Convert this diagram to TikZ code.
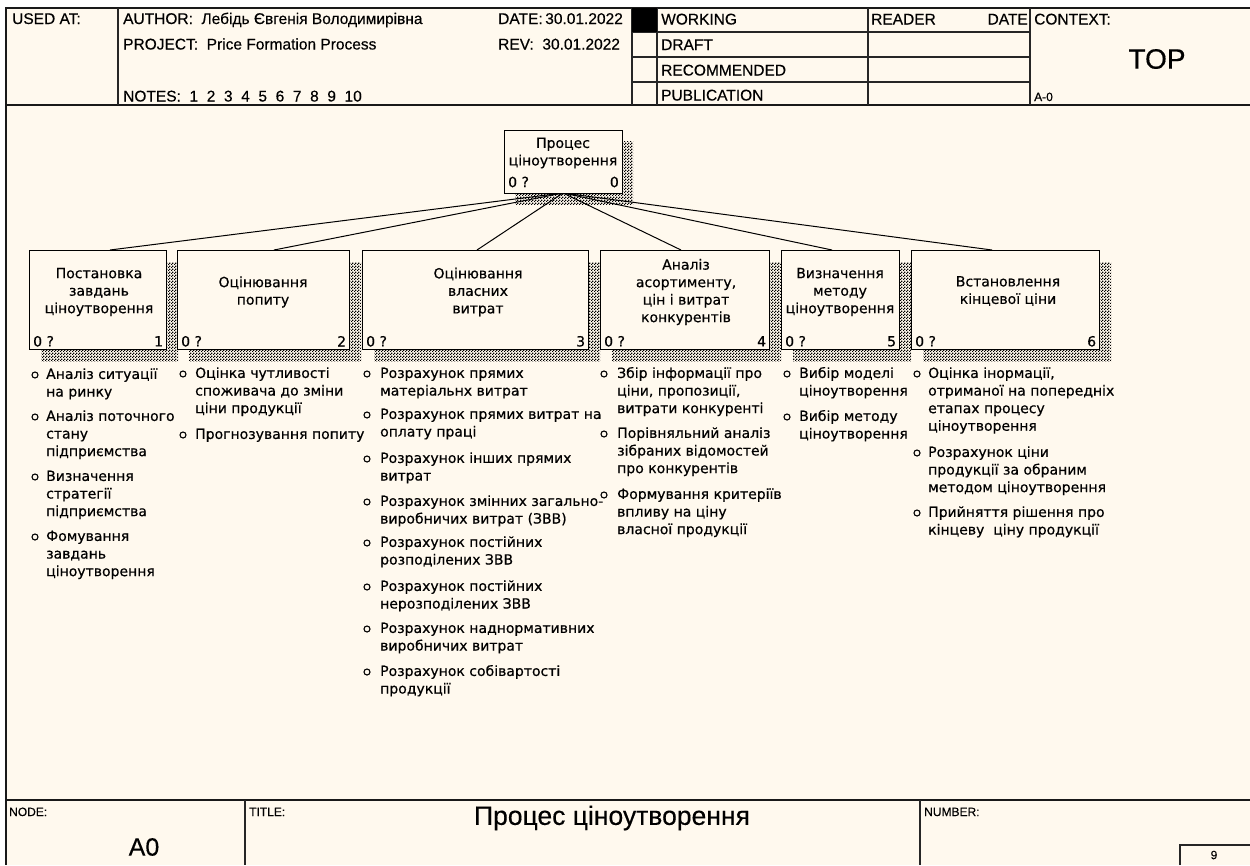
\documentclass[tikz,border=0pt]{standalone}
\usepackage{fontspec}
\setmainfont{Liberation Sans}
\newfontfamily\hdfont[FakeBold=0.35]{Liberation Sans}
\newfontfamily\dvfont[FakeBold=0.5]{DejaVu Sans}
\usetikzlibrary{patterns,patterns.meta}
\definecolor{paper}{HTML}{FFF9EE}

% fine checker used for the drop shadows
\tikzdeclarepattern{
  name=dither,
  type=uncolored,
  bounding box={(0pt,0pt) and (3pt,3pt)},
  tile size={(3pt,3pt)},
  code={
    \pgfpathrectangle{\pgfpointorigin}{\pgfpoint{1.5pt}{1.5pt}}
    \pgfpathrectangle{\pgfpoint{1.5pt}{1.5pt}}{\pgfpoint{1.5pt}{1.5pt}}
    \pgfusepath{fill}
  }
}

% list entry: name, bullet x, text x, y of first line, text
\newcommand\li[5]{%
  \node[bul] (#1b) at (#2,#4) {};
  \node[itm] (#1) at (#3,#4-8.6) {\strut#5};}

\begin{document}
\begin{tikzpicture}[x=1pt,y=-1pt,
  frame/.style={line width=1.8pt, draw=black!90},
  rule/.style={line width=1.4pt, draw=black!85},
  hdr/.style={font=\hdfont\fontsize{15.5}{17}\selectfont, anchor=base west, inner sep=0},
  small/.style={font=\hdfont\fontsize{12}{14}\selectfont, anchor=base west, inner sep=0},
  actbox/.style={draw, line width=1.3pt, fill=paper, anchor=north west, inner sep=0, minimum height=99pt},
  shade/.style={pattern=dither, pattern color=black},
  conn/.style={line width=1pt, draw=black},
  boxtxt/.style={font=\dvfont\fontsize{14}{17.5}\selectfont, align=center, inner sep=0},
  lbl/.style={font=\dvfont\fontsize{14}{16}\selectfont, inner sep=0},
  itm/.style={font=\dvfont\fontsize{14}{17.6}\selectfont, align=left, anchor=north west, inner sep=0},
  bul/.style={circle, draw, line width=1.1pt, inner sep=0, minimum size=6pt, fill=paper},
]
\path[use as bounding box, fill=white] (0,0) rectangle (1250,865);
\fill[paper] (6,8) rectangle (1250,865);

% ---------- header ----------
\draw[frame] (1250,8) -- (6,8) -- (6,865);
\draw[frame] (6,105) -- (1250,105);
\draw[rule] (118,8) -- (118,105);
\draw[rule] (632,8) -- (632,105);
\draw[rule] (657,8) -- (657,105);
\draw[rule] (868,8) -- (868,105);
\draw[rule] (1030,8) -- (1030,105);
\foreach \yy in {32,57,82} \draw[rule] (632,\yy) -- (1030,\yy);
\fill[black] (632,8) rectangle (657,32);

\node[hdr] (usedat) at (12,24) {USED AT:};
\node[hdr] (author) at (123,24) {AUTHOR:\ \ Лебідь Євгенія Володимирівна};
\node[hdr] (project) at (123,49.5) {PROJECT:\ \ Price Formation Process};
\node[hdr] (notes) at (123,101.5) {NOTES:\ \ 1\ \ 2\ \ 3\ \ 4\ \ 5\ \ 6\ \ 7\ \ 8\ \ 9\ \ 10};
\node[hdr] (date) at (498,24) {DATE:\,30.01.2022};
\node[hdr] (rev) at (498,49.5) {REV:\ \ 30.01.2022};
\node[hdr] (working) at (661,24.5) {WORKING};
\node[hdr] (draft) at (661,50) {DRAFT};
\node[hdr] (recom) at (661,75.5) {RECOMMENDED};
\node[hdr] (publ) at (661,100.5) {PUBLICATION};
\node[hdr] (reader) at (871,24.5) {READER};
\node[hdr, anchor=base east] (rdate) at (1028,24.5) {DATE};
\node[hdr] (context) at (1034,24.5) {CONTEXT:};
\node[font=\hdfont\fontsize{28}{30}\selectfont, inner sep=0] (top-ctx) at (1157,59) {TOP};
\node[small] (actx) at (1034,101) {A-0};

% ---------- shadows ----------
\fill[shade] (515,141) rectangle (633,204);
\foreach \xa/\w in {29/137,177/172,362/226,600/169,781/118,911/188}
  \fill[shade] (\xa+12,262) rectangle (\xa+\w+12,361);

% ---------- connectors ----------
\coordinate (hub) at (563,193);
\coordinate (e1) at (110,250);
\coordinate (e2) at (274,250);
\coordinate (e3) at (477,250);
\coordinate (e4) at (681,250);
\coordinate (e5) at (832,250);
\coordinate (e6) at (992,250);
\foreach \k in {1,...,6} \draw[conn] (hub) -- (e\k);

% ---------- activity boxes ----------
\node[actbox, minimum width=118pt, minimum height=63pt] (top) at (504,130) {};
\node[boxtxt] (toptxt) at (563,153) {Процес\\ціноутворення};
\node[lbl, anchor=west] (topl) at (508,182) {0 ?};
\node[lbl, anchor=east] (topr) at (619,182) {0};

\node[actbox, minimum width=137pt] (b1) at (29,250) {};
\node[actbox, minimum width=172pt] (b2) at (177,250) {};
\node[actbox, minimum width=226pt] (b3) at (362,250) {};
\node[actbox, minimum width=169pt] (b4) at (600,250) {};
\node[actbox, minimum width=118pt] (b5) at (781,250) {};
\node[actbox, minimum width=188pt] (b6) at (911,250) {};

\node[boxtxt] (t1) at (99,292) {Постановка\\завдань\\ціноутворення};
\node[boxtxt] (t2) at (263,292) {Оцінювання\\попиту};
\node[boxtxt] (t3) at (478,292) {Оцінювання\\власних\\витрат};
\node[boxtxt] (t4) at (686,292) {Аналіз\\асортименту,\\цін і витрат\\конкурентів};
\node[boxtxt] (t5) at (840,292) {Визначення\\методу\\ціноутворення};
\node[boxtxt] (t6) at (1008,291) {Встановлення\\кінцевої ціни};

\foreach \k in {1,...,6} {
  \node[lbl, anchor=west] (l\k) at ([shift={(4,-9)}]b\k.south west) {0 ?};
  \node[lbl, anchor=east] (n\k) at ([shift={(-4,-9)}]b\k.south east) {\k};
}

% ---------- decomposition notes ----------
\li{a1}{35}{46}{375}{Аналіз ситуації\\на ринку}
\li{a2}{35}{46}{417}{Аналіз поточного\\стану\\підприємства}
\li{a3}{35}{46}{477}{Визначення\\стратегії\\підприємства}
\li{a4}{35}{46}{537}{Фомування\\завдань\\ціноутворення}

\li{c1}{183}{195}{374}{Оцінка чутливості\\споживача до зміни\\ціни продукції}
\li{c2}{183}{195}{435}{Прогнозування попиту}

\li{d1}{367}{380}{374}{Розрахунок прямих\\матеріальнх витрат}
\li{d2}{367}{380}{415}{Розрахунок прямих витрат на\\оплату праці}
\li{d3}{367}{380}{459}{Розрахунок інших прямих\\витрат}
\li{d4}{367}{380}{502}{Розрахунок змінних загально-\\виробничих витрат (ЗВВ)}
\li{d5}{367}{380}{543}{Розрахунок постійних\\розподілених ЗВВ}
\li{d6}{367}{380}{587}{Розрахунок постійних\\нерозподілених ЗВВ}
\li{d7}{367}{380}{629}{Розрахунок наднормативних\\виробничих витрат}
\li{d8}{367}{380}{672}{Розрахунок собівартості\\продукції}

\li{e1}{604}{617}{374}{Збір інформації про\\ціни, пропозиції,\\витрати конкуренті}
\li{e2}{604}{617}{434}{Порівняльний аналіз\\зібраних відомостей\\про конкурентів}
\li{e3}{604}{617}{495}{Формування критеріїв\\впливу на ціну\\власної продукції}

\li{f1}{787}{799}{374}{Вибір моделі\\ціноутворення}
\li{f2}{787}{799}{417}{Вибір методу\\ціноутворення}

\li{g1}{917}{928}{374}{Оцінка інормації,\\отриманої на попередніх\\етапах процесу\\ціноутворення}
\li{g2}{917}{928}{453}{Розрахунок ціни\\продукції за обраним\\методом ціноутворення}
\li{g3}{917}{928}{513}{Прийняття рішення про\\кінцеву\ \ ціну продукції}

% ---------- footer ----------
\draw[frame] (6,800) -- (1250,800);
\draw[rule] (245,800) -- (245,865);
\draw[rule] (920,800) -- (920,865);
\draw[rule] (1180,865) -- (1180,845) -- (1250,845);
\node[small] (nodelbl) at (9,816) {NODE:};
\node[small] (titlelbl) at (249,816) {TITLE:};
\node[small] (numlbl) at (924,816) {NUMBER:};
\node[font=\hdfont\fontsize{25}{27}\selectfont, inner sep=0] (nodeval) at (144,847) {A0};
\node[font=\hdfont\fontsize{26.5}{29}\selectfont, inner sep=0] (titleval) at (612,818) {Процес ціноутворення};
\node[font=\hdfont\fontsize{12}{14}\selectfont, inner sep=0] (numval) at (1214,855) {9};
\end{tikzpicture}
\end{document}
